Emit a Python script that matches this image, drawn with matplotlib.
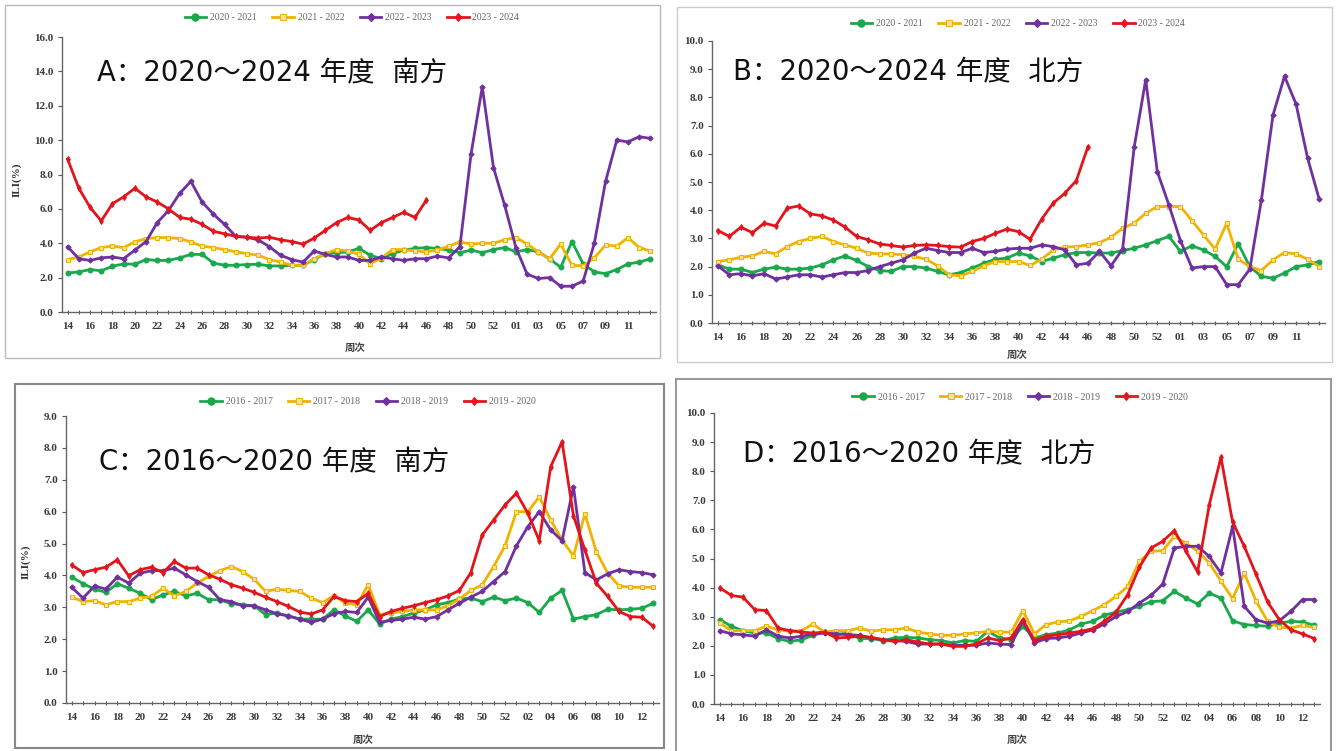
import matplotlib

matplotlib.use("Agg")
import matplotlib.pyplot as plt
import numpy as np
from matplotlib.patches import Rectangle
from matplotlib.ticker import FixedLocator, FuncFormatter

W, H = 1339, 751

weeks_ab = [f"{w:02d}" for w in list(range(14, 54)) + list(range(1, 14))]
weeks_cd = [f"{w:02d}" for w in list(range(14, 53)) + list(range(1, 14))]

seasons_ab = ["2020 - 2021", "2021 - 2022", "2022 - 2023", "2023 - 2024"]
seasons_cd = ["2016 - 2017", "2017 - 2018", "2018 - 2019", "2019 - 2020"]

# --- A: south 2020-2024 ---
a_green = [2.27, 2.33, 2.47, 2.4, 2.66, 2.8, 2.78, 3.05, 3.0, 3.0, 3.15, 3.35, 3.35, 2.85, 2.72, 2.72,
           2.76, 2.78, 2.68, 2.68, 2.72, 2.72, 3.05, 3.4, 3.45,
           3.5, 3.7, 3.3, 3.1, 3.4, 3.6, 3.7, 3.75, 3.7, 3.6, 3.45, 3.6, 3.45, 3.63, 3.75, 3.5, 3.63,
           3.5, 3.1, 2.6, 4.1, 2.8, 2.33, 2.23, 2.47, 2.8, 2.9, 3.1]
a_yellow = [3.05, 3.2, 3.5, 3.75, 3.83, 3.75, 4.08, 4.27, 4.33, 4.33, 4.27, 4.08, 3.83, 3.75, 3.63, 3.5,
            3.4, 3.3, 3.05, 2.9, 2.72, 2.72, 3.1, 3.4, 3.63,
            3.55, 3.35, 2.8, 3.15, 3.63, 3.63, 3.55, 3.5, 3.6, 3.83, 4.08, 3.95, 4.0, 4.0, 4.2, 4.33, 3.95,
            3.5, 3.1, 3.95, 2.72, 2.68, 3.15, 3.9, 3.83, 4.33, 3.75, 3.55]
a_purple = [3.8, 3.1, 3.0, 3.15, 3.2, 3.1, 3.6, 4.1, 5.2, 5.9, 6.9, 7.6, 6.4, 5.7, 5.1, 4.4,
            4.35, 4.2, 3.8, 3.3, 3.05, 2.9, 3.55, 3.35, 3.2,
            3.2, 3.0, 3.0, 3.2, 3.1, 3.0, 3.1, 3.1, 3.25, 3.15, 3.8, 9.2, 13.1, 8.4, 6.2, 3.75, 2.2,
            1.95, 2.0, 1.5, 1.5, 1.8, 4.0, 7.6, 10.0, 9.9, 10.2, 10.1]
a_red = [8.9, 7.2, 6.1, 5.3, 6.3, 6.7, 7.2, 6.7, 6.4, 6.0, 5.5, 5.4, 5.1, 4.7, 4.55, 4.4, 4.35,
         4.3, 4.35, 4.2, 4.1, 3.95, 4.3, 4.75, 5.2, 5.5, 5.35, 4.75, 5.2, 5.5, 5.8, 5.5, 6.5]

# --- B: north 2020-2024 ---
b_green = [2.06, 1.91, 1.91, 1.79, 1.91, 1.98, 1.91, 1.91, 1.95, 2.06, 2.24, 2.38, 2.22, 2.0, 1.86,
           1.83, 2.0, 2.0, 1.95, 1.83, 1.71, 1.79, 1.95, 2.12, 2.26,
           2.3, 2.48, 2.38, 2.18, 2.3, 2.42, 2.5, 2.5, 2.48, 2.48, 2.57, 2.65, 2.77, 2.92, 3.07, 2.54,
           2.74, 2.59, 2.36, 2.0, 2.81, 2.0, 1.65, 1.59, 1.77, 2.0, 2.06, 2.18]
b_yellow = [2.18, 2.24, 2.33, 2.38, 2.54, 2.45, 2.71, 2.89, 3.0, 3.07, 2.89, 2.77, 2.65, 2.48, 2.45,
            2.45, 2.42, 2.36, 2.26, 2.03, 1.71, 1.67, 1.83, 2.03, 2.18,
            2.18, 2.18, 2.04, 2.26, 2.59, 2.69, 2.71, 2.77, 2.85, 3.04, 3.36, 3.54, 3.89, 4.13, 4.13,
            4.13, 3.63, 3.12, 2.62, 3.54, 2.26, 2.0, 1.86, 2.24, 2.5, 2.45, 2.26, 2.0]
b_purple = [2.03, 1.71, 1.75, 1.67, 1.75, 1.56, 1.63, 1.71, 1.71, 1.63, 1.71, 1.79, 1.79, 1.86, 2.0,
            2.12, 2.24, 2.48, 2.65, 2.57, 2.5, 2.5, 2.65, 2.5, 2.54,
            2.62, 2.65, 2.65, 2.77, 2.71, 2.59, 2.06, 2.12, 2.54, 2.03, 2.62, 6.23, 8.63, 5.37, 4.19,
            2.92, 1.95, 2.0, 2.0, 1.36, 1.36, 1.91, 4.36, 7.37, 8.75, 7.76, 5.84, 4.39]
b_red = [3.28, 3.07, 3.4, 3.2, 3.54, 3.44, 4.07, 4.15, 3.87, 3.8, 3.65, 3.4, 3.07, 2.95, 2.8, 2.75,
         2.69, 2.75, 2.77, 2.75, 2.71, 2.69, 2.89, 3.0, 3.18, 3.33, 3.24, 2.97, 3.68, 4.25, 4.6, 5.05, 6.25]

# --- C: south 2016-2020 ---
c_green = [3.95, 3.74, 3.57, 3.47, 3.74, 3.6, 3.44, 3.24, 3.39, 3.5, 3.36, 3.44, 3.24, 3.24, 3.11,
           3.08, 3.05, 2.77, 2.82, 2.73, 2.63, 2.63, 2.63, 2.92,
           2.73, 2.56, 2.92, 2.48, 2.63, 2.71, 2.82, 2.92, 3.08, 3.15, 3.26, 3.29, 3.18, 3.32, 3.21,
           3.29, 3.15, 2.84, 3.29, 3.53, 2.63, 2.71, 2.77, 2.94, 2.92, 2.94, 2.97, 3.13]
c_yellow = [3.32, 3.18, 3.21, 3.08, 3.18, 3.18, 3.29, 3.34, 3.6, 3.36, 3.5, 3.76, 3.97, 4.15, 4.28,
            4.12, 3.88, 3.5, 3.57, 3.53, 3.5, 3.29, 3.15, 3.37,
            3.13, 3.08, 3.71, 2.77, 2.82, 2.87, 2.92, 2.92, 2.92, 3.05, 3.26, 3.53, 3.71, 4.28, 4.93,
            6.0, 6.0, 6.47, 5.74, 5.11, 4.61, 5.93, 4.75, 4.07, 3.67, 3.63, 3.63, 3.63]
c_purple = [3.63, 3.29, 3.67, 3.57, 3.95, 3.76, 4.07, 4.15, 4.15, 4.23, 4.02, 3.81, 3.63, 3.24, 3.18,
            3.05, 3.05, 2.92, 2.8, 2.73, 2.63, 2.53, 2.63, 2.8,
            2.87, 2.84, 3.32, 2.53, 2.59, 2.63, 2.69, 2.63, 2.71, 2.92, 3.13, 3.32, 3.5, 3.81, 4.12,
            4.93, 5.53, 6.0, 5.43, 5.09, 6.78, 4.09, 3.86, 4.05, 4.18, 4.12, 4.09, 4.02]
c_red = [4.33, 4.09, 4.18, 4.26, 4.49, 3.99, 4.18, 4.26, 4.09, 4.44, 4.23, 4.23, 4.02, 3.88, 3.71,
         3.6, 3.47, 3.32, 3.18, 3.03, 2.85, 2.79, 2.92, 3.34,
         3.21, 3.18, 3.44, 2.71, 2.87, 2.97, 3.05, 3.15, 3.24, 3.36, 3.53, 4.09, 5.27, 5.74, 6.21,
         6.58, 5.95, 5.09, 7.41, 8.19, 5.87, 4.8, 3.76, 3.34, 2.87, 2.71, 2.69, 2.4]

# --- D: north 2016-2020 ---
d_green = [2.9, 2.67, 2.52, 2.44, 2.44, 2.25, 2.15, 2.21, 2.36, 2.47, 2.38, 2.44, 2.25, 2.25, 2.18,
           2.27, 2.29, 2.27, 2.21, 2.18, 2.1, 2.18, 2.15, 2.5, 2.27,
           2.21, 2.67, 2.27, 2.38, 2.44, 2.55, 2.75, 2.84, 3.05, 3.16, 3.24, 3.36, 3.51, 3.55, 3.87,
           3.64, 3.44, 3.81, 3.64, 2.86, 2.73, 2.7, 2.67, 2.78, 2.84, 2.82, 2.7]
d_yellow = [2.78, 2.52, 2.52, 2.52, 2.67, 2.55, 2.5, 2.52, 2.75, 2.47, 2.52, 2.52, 2.61, 2.5, 2.55,
            2.55, 2.61, 2.47, 2.41, 2.36, 2.36, 2.41, 2.44, 2.5, 2.47,
            2.47, 3.21, 2.41, 2.73, 2.82, 2.86, 3.01, 3.21, 3.41, 3.7, 4.04, 4.9, 5.25, 5.27, 5.76,
            5.53, 5.25, 4.85, 4.22, 3.62, 4.5, 3.55, 2.84, 2.63, 2.61, 2.7, 2.63]
d_purple = [2.52, 2.41, 2.38, 2.33, 2.55, 2.33, 2.27, 2.33, 2.41, 2.44, 2.41, 2.38, 2.36, 2.27, 2.21,
            2.18, 2.15, 2.06, 2.06, 2.06, 2.02, 2.02, 2.02, 2.1, 2.06,
            2.04, 2.86, 2.1, 2.25, 2.27, 2.33, 2.44, 2.55, 2.75, 3.01, 3.18, 3.47, 3.73, 4.12, 5.36,
            5.42, 5.42, 5.07, 4.5, 6.1, 3.36, 2.9, 2.78, 2.86, 3.18, 3.59, 3.59]
d_red = [3.99, 3.73, 3.67, 3.24, 3.21, 2.61, 2.52, 2.47, 2.44, 2.47, 2.27, 2.29, 2.33, 2.29, 2.21,
         2.15, 2.21, 2.13, 2.06, 2.06, 1.98, 1.98, 2.06, 2.27, 2.18,
         2.27, 2.9, 2.18, 2.33, 2.38, 2.44, 2.5, 2.59, 2.84, 3.16, 3.76, 4.7, 5.36, 5.59, 5.96,
         5.25, 4.54, 6.85, 8.48, 6.25, 5.42, 4.47, 3.51, 2.9, 2.55, 2.41, 2.25]

STYLES = [
    dict(color="#1aa84c", marker="o", ms=3.5, mfc="#1aa84c"),
    dict(color="#f0b400", marker="s", ms=3.2, mfc="#f8e3a0"),
    dict(color="#7030a0", marker="D", ms=2.6, mfc="#7030a0"),
    dict(color="#e3141b", marker="d", ms=3.0, mfc="#e3141b"),
]

TICK_FONT = dict(family="Liberation Serif", weight="bold", size=8)
CJK = ["DejaVu Sans", "Noto Sans CJK SC"]


def fig_rect(left, top, right, bottom):
    return [left / W, 1 - bottom / H, (right - left) / W, (bottom - top) / H]


def fig_xy(x, y):
    return x / W, 1 - y / H


def draw_panel(fig, rect, weeks, series, names, ymax, ystep, title, title_xy, legend_xy, xlabel_xy,
               ylabel_xy=None):
    ax = fig.add_axes(fig_rect(*rect))
    n = len(weeks)
    x = np.arange(n)
    for values, name, st in zip(series, names, STYLES):
        ax.plot(x[:len(values)], values, color=st["color"], lw=2.0, marker=st["marker"],
                ms=st["ms"], mfc=st["mfc"], mec=st["color"], mew=0.8, label=name)
    ax.set_xlim(-0.5, n - 0.5)
    ax.set_ylim(0, ymax)
    ax.set_yticks(np.arange(0, ymax + 0.01, ystep))
    ax.yaxis.set_major_formatter(FuncFormatter(lambda v, _: f"{v:.1f}"))
    ax.set_xticks(x[:51:2])
    ax.set_xticklabels([weeks[i] for i in range(0, 51, 2)])
    ax.xaxis.set_minor_locator(FixedLocator(x))
    ax.tick_params(axis="x", which="both", direction="inout", length=3, width=0.8, color="#555555",
                   pad=6)
    ax.tick_params(axis="y", direction="out", length=3, width=0.8, color="#555555", pad=3)
    for lab in ax.get_xticklabels() + ax.get_yticklabels():
        lab.set_fontproperties(TICK_FONT)
        lab.set_color("#3a3a3a")
    for side in ("top", "right"):
        ax.spines[side].set_visible(False)
    for side in ("left", "bottom"):
        ax.spines[side].set_color("#666666")
        ax.spines[side].set_linewidth(1.0)
    ax.patch.set_alpha(0)

    lx, ly = fig_xy(*legend_xy)
    ax.legend(loc="center", bbox_to_anchor=(lx, ly), bbox_transform=fig.transFigure, ncol=4,
              frameon=False, handlelength=2.2, columnspacing=1.6, handletextpad=0.4, markerscale=1.5,
              prop=dict(family="Liberation Serif", size=7), labelcolor="#666666")

    tx, ty = fig_xy(*title_xy)
    fig.text(tx, ty, title, ha="left", va="center", fontsize=19.8, family=CJK, color="#111111")
    xx, xy = fig_xy(*xlabel_xy)
    fig.text(xx, xy, "周次", ha="center", va="center", fontsize=7.5, family="Noto Sans CJK SC",
             weight="bold", color="#444444")
    if ylabel_xy is not None:
        yx, yy = fig_xy(*ylabel_xy)
        fig.text(yx, yy, "ILI(%)", ha="center", va="center", rotation=90,
                 family="Liberation Serif", weight="bold", size=8, color="#333333")
    return ax


fig = plt.figure(figsize=(W / 100, H / 100), dpi=100)
fig.patch.set_facecolor("white")

frames = [
    ((5, 5, 660, 358), "#bbbbbb", 1.0),
    ((677, 7, 1332, 362), "#cccccc", 1.0),
    ((15, 384, 664, 748), "#888888", 1.5),
    ((676, 379, 1331, 752), "#999999", 1.5),
]
for (l, t, r, b), col, lw in frames:
    x0, y0 = fig_xy(l, b)
    fig.add_artist(Rectangle((x0, y0), (r - l) / W, (b - t) / H, transform=fig.transFigure,
                             fill=False, edgecolor=col, linewidth=lw))

draw_panel(fig, (62, 37, 656, 312), weeks_ab, [a_green, a_yellow, a_purple, a_red], seasons_ab,
           16, 2, "A：2020～2024 年度  南方", (97, 73), (352, 18), (355, 348), (17, 180))
draw_panel(fig, (712, 41, 1325, 323), weeks_ab, [b_green, b_yellow, b_purple, b_red], seasons_ab,
           10, 1, "B：2020～2024 年度  北方", (733, 72), (1018, 24), (1017, 355))
draw_panel(fig, (66, 416, 659, 703), weeks_cd, [c_green, c_yellow, c_purple, c_red], seasons_cd,
           9, 1, "C：2016～2020 年度  南方", (99, 462), (368, 402), (363, 740), (26, 562))
draw_panel(fig, (714, 413, 1320, 704), weeks_cd, [d_green, d_yellow, d_purple, d_red], seasons_cd,
           10, 1, "D：2016～2020 年度  北方", (743, 454), (1020, 397), (1017, 740))

fig.savefig("out.png", dpi=100)
